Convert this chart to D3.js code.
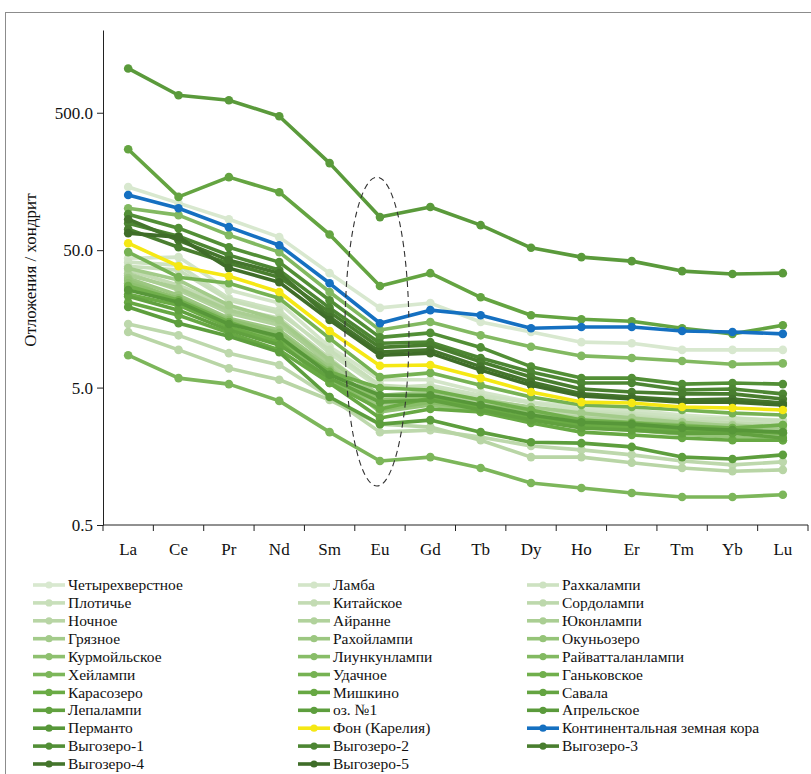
<!DOCTYPE html>
<html><head><meta charset="utf-8">
<script src="https://cdn.jsdelivr.net/npm/d3@7"></script>
<style>
html,body{margin:0;padding:0;background:#fff;}
svg{display:block;font-family:"Liberation Serif","Times New Roman",serif;}
</style></head>
<body><svg id="chart" width="811" height="774"></svg>
<script>
const categories = ["La","Ce","Pr","Nd","Sm","Eu","Gd","Tb","Dy","Ho","Er","Tm","Yb","Lu"];
const yTicks = [0.5, 5, 50, 500];
const yTitle = "Отложения / хондрит";
const seriesNames = [
  "Четырехверстное","Ламба","Рахкалампи",
  "Плотичье","Китайское","Сордолампи",
  "Ночное","Айранне","Юконлампи",
  "Грязное","Рахойлампи","Окуньозеро",
  "Курмойльское","Лиункунлампи","Райватталанлампи",
  "Хейлампи","Удачное","Ганьковское",
  "Карасозеро","Мишкино","Савала",
  "Лепалампи","оз. №1","Апрельское",
  "Перманто","Фон (Карелия)","Континентальная земная кора",
  "Выгозеро-1","Выгозеро-2","Выгозеро-3",
  "Выгозеро-4","Выгозеро-5"
];
const seriesValues = [
  [144,110,84,62.2,34,19,20.6,15,12.7,10.7,10.5,9.4,9.4,9.4],
  [43.7,44.5,25.6,20.6,9.9,5.7,5.7,4.64,3.92,3.61,3.43,3.16,3.0,2.9],
  [40.9,38.9,22.3,18.3,8.9,4.96,5.2,4.4,3.86,3.43,3.26,3.05,2.9,2.76],
  [38.2,35.8,21.6,17.4,9.4,5.2,4.96,4.2,3.55,3.32,3.16,2.9,3.0,2.85],
  [35.8,27.8,19.3,16,8.2,4.2,4.8,4.06,3.43,3.16,3.05,2.85,2.76,2.67],
  [14.5,12,8.9,7.3,4.27,2.37,2.45,2.18,1.88,1.76,1.62,1.46,1.37,1.44],
  [12.7,9.4,6.9,5.7,4.06,2.71,2.58,2.07,1.56,1.56,1.42,1.3,1.23,1.26],
  [34,25.6,17.4,14.2,7.7,4.2,4.4,3.86,3.32,3.0,2.9,2.67,2.54,2.37],
  [32.9,26.5,18.3,15,7.3,3.73,4.06,3.61,3.26,2.9,2.76,2.58,2.67,2.54],
  [37,30.3,19.9,15.5,7.9,4.4,4.64,4.06,3.61,3.26,3.0,2.8,2.62,2.45],
  [31.3,23.5,16,13.1,7.0,3.49,3.92,3.43,3.0,2.67,2.54,2.37,2.33,2.22],
  [30.3,21.6,15.5,12,6.5,3.32,3.73,3.32,2.9,2.58,2.45,2.29,2.18,2.07],
  [28.7,22.3,15.5,12.5,6.7,4.06,4.2,3.73,3.32,2.9,2.8,2.67,2.54,2.67],
  [26.5,20.6,13.8,11.1,5.7,3.43,3.92,3.43,3.0,2.76,2.58,2.45,2.37,2.33],
  [101,89.9,64.3,48.4,24.8,13.1,15,12,9.9,8.5,8.2,7.8,7.4,7.5],
  [8.6,5.86,5.3,4.0,2.37,1.46,1.56,1.3,1.01,0.93,0.855,0.8,0.8,0.83],
  [48.4,31.8,28.7,22.3,11.4,5.96,6.4,5.2,4.27,3.73,3.61,3.43,3.26,3.16],
  [27.4,21.6,15,11.4,6.5,4.96,4.8,4.06,3.43,2.9,2.76,2.62,2.54,2.67],
  [23.9,19.9,13.8,10.7,5.4,3.49,4.2,3.55,3.0,2.67,2.58,2.45,2.45,2.33],
  [20.9,16.8,12.5,9.4,5.4,3.0,3.49,3.32,2.76,2.37,2.26,2.15,2.07,2.07],
  [271,122,170,132,65,27.4,34,22.7,16.8,15.7,15.2,13.5,12.3,14.2],
  [23.1,18.3,13.1,10.2,5.86,3.92,4.06,3.43,2.9,2.54,2.45,2.33,2.33,2.15],
  [19.3,14.7,11.8,9.06,4.27,2.71,2.9,2.37,2.0,1.97,1.85,1.56,1.51,1.62],
  [1050,670,617,471,215,87,103,76,52,44.5,41.6,35.2,33.5,34],
  [25.6,20.9,14.5,11.8,6.2,4.4,4.4,3.73,3.16,2.8,2.71,2.54,2.45,2.37],
  [56.2,38.2,32.3,24.8,12.9,7.2,7.3,5.86,4.64,3.92,3.86,3.61,3.55,3.43],
  [126,101,73.5,54.3,28.7,14.7,18.3,16.8,13.5,13.8,13.8,12.9,12.7,12.3],
  [91.4,72.3,52.5,40.9,21.6,11.6,12.5,9.8,7.1,5.86,5.86,5.3,5.4,5.3],
  [78.6,63.2,46,35.8,19,10.5,10.7,8.2,6.5,5.4,5.4,4.8,4.88,4.5],
  [71.1,52.5,40.2,31.8,17.7,9.8,10.2,7.7,5.96,4.88,4.64,4.5,4.5,4.13],
  [84,59,42.3,34,16.3,9.06,9.4,7.1,5.5,4.5,4.27,4.06,4.13,3.86],
  [66.5,62.2,37,29.2,15.5,8.6,8.9,6.7,5.2,4.34,4.13,3.92,3.92,3.73]
];
// Eu anomaly annotation (dashed ellipse): category and value span
const ellipseCategory = "Eu";
const ellipseRange = [0.96, 170];

const svg = d3.select("#chart");
const W = 811, H = 774;

// outer frame (extends past the right/bottom edges)
svg.append("rect").attr("x",5.5).attr("y",12.5).attr("width",W+20).attr("height",H+20)
  .attr("fill","none").attr("stroke","#8c8c8c").attr("stroke-width",1);

const x = d3.scaleBand().domain(categories).range([103, 808]);
const y = d3.scaleLog().domain([0.5, 2000]).range([525, 30]);

const specialColor = {"Фон (Карелия)":"#f5e814","Континентальная земная кора":"#1570c1"};
const greenScale = d3.scaleLinear().domain([0,6,12,18,24,29])
  .range(["#d8e8cf","#b8d5a5","#8ec06f","#6aab45","#579739","#3f6d29"]);
let gi = 0;
const series = seriesNames.map((name,i)=>{
  let color;
  if (specialColor[name]) color = specialColor[name];
  else { color = greenScale(gi); gi++; }
  return {name, color, values: seriesValues[i].map((v,j)=>({cat:categories[j], v}))};
});

// axes
const yAxis = d3.axisLeft(y).tickValues(yTicks).tickFormat(d3.format(".1f")).tickSize(6).tickSizeOuter(0);
const gy = svg.append("g").attr("transform","translate(103,0)").call(yAxis);
gy.select(".domain").attr("stroke","#222");
gy.selectAll(".tick line").attr("stroke","#222");
gy.selectAll(".tick text").attr("font-size",17).attr("font-family","Liberation Serif").attr("fill","#111").attr("x",-10);

const gx = svg.append("g").attr("transform","translate(0,525)");
gx.append("line").attr("x1",x.range()[0]).attr("x2",x.range()[1]).attr("stroke","#222");
const bounds = categories.map(c=>x(c)).concat([x.range()[1]]);
gx.selectAll("line.tk").data(bounds).join("line").attr("class","tk")
  .attr("x1",d=>d).attr("x2",d=>d).attr("y1",0).attr("y2",6).attr("stroke","#222");
gx.selectAll("text").data(categories).join("text")
  .attr("x",d=>x(d)+x.bandwidth()/2).attr("y",30).attr("text-anchor","middle")
  .attr("font-size",17).attr("fill","#111").text(d=>d);

svg.append("text").attr("transform","translate(36,270) rotate(-90)")
  .attr("text-anchor","middle").attr("font-size",17).attr("fill","#111").text(yTitle);

// lines
const line = d3.line().x(d=>x(d.cat)+x.bandwidth()/2).y(d=>y(d.v));
const order = series.filter(s=>!specialColor[s.name]).concat(series.filter(s=>specialColor[s.name]));
const gs = svg.append("g").selectAll("g").data(order).join("g");
gs.append("path").attr("d",d=>line(d.values)).attr("fill","none")
  .attr("stroke",d=>d.color).attr("stroke-width",3.6).attr("stroke-linejoin","round");
gs.selectAll("circle").data(d=>d.values.map(p=>({...p,color:d.color}))).join("circle")
  .attr("cx",d=>x(d.cat)+x.bandwidth()/2).attr("cy",d=>y(d.v)).attr("r",4.3).attr("fill",d=>d.color);

// dashed ellipse around Eu
const ey0 = y(ellipseRange[1]), ey1 = y(ellipseRange[0]);
svg.append("ellipse").attr("cx",x(ellipseCategory)+x.bandwidth()/2-3).attr("cy",(ey0+ey1)/2)
  .attr("rx",32).attr("ry",(ey1-ey0)/2).attr("fill","none").attr("stroke","#333")
  .attr("stroke-width",1.1).attr("stroke-dasharray","6,4");

// legend
const colX = [33, 298, 527];
const lg = svg.append("g").selectAll("g").data(series).join("g")
  .attr("transform",(d,i)=>`translate(${colX[i%3]},${585 + Math.floor(i/3)*17.9})`);
lg.append("line").attr("x1",0).attr("x2",32).attr("stroke",d=>d.color).attr("stroke-width",3.6);
lg.append("circle").attr("cx",16).attr("r",3.6).attr("fill",d=>d.color);
lg.append("text").attr("x",35).attr("dy","0.33em").attr("font-size",15.5).attr("fill","#111").text(d=>d.name);
</script></body></html>
